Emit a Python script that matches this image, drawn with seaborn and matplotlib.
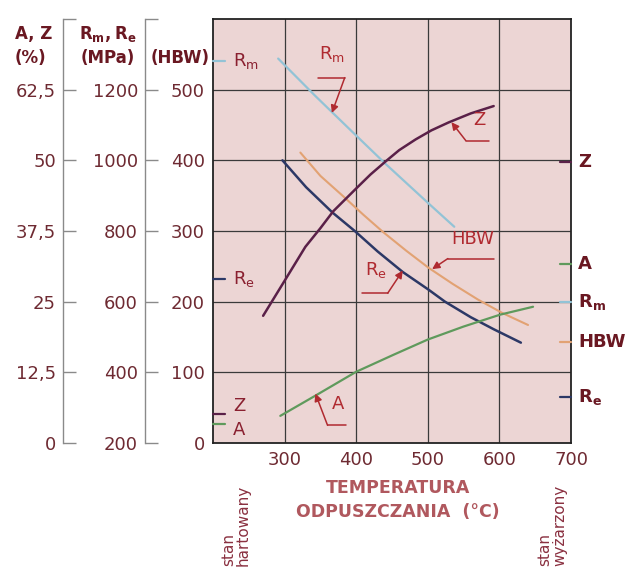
import matplotlib
matplotlib.use("Agg")
import matplotlib.pyplot as plt
import seaborn as sns
import pandas as pd

# tempering temperature (°C) and property values
t_rm = [291, 343, 399, 441, 500, 537]
rm = [1288, 1182, 1072, 990, 880, 812]                     # MPa

t_re = [297, 330, 367, 398, 430, 465, 501, 524, 560, 592, 630]
re = [1000, 924, 852, 800, 742, 684, 634, 600, 556, 522, 484]   # MPa

t_hbw = [322, 350, 382, 410, 437, 470, 501, 535, 570, 604, 640]
hbw = [411, 378, 349, 323, 299, 272, 248, 225, 203, 184, 167]   # HBW

t_z = [270, 301, 329, 350, 368, 399, 420, 441, 460, 483, 505, 529, 560, 592]
z = [22.5, 28.9, 34.7, 38.0, 41.0, 44.9, 47.5, 49.8, 51.8, 53.7, 55.3, 56.7, 58.3, 59.6]  # %

t_a = [294, 342, 400, 452, 500, 550, 601, 647]
a = [4.8, 8.3, 12.6, 15.6, 18.3, 20.6, 22.7, 24.1]         # %

x_ticks = [300, 400, 500, 600, 700]
hbw_ticks = [0, 100, 200, 300, 400, 500]
mpa_ticks = [200, 400, 600, 800, 1000, 1200, 1400]
pct_ticks = [0, 12.5, 25, 37.5, 50, 62.5, 75]

MAROON = "#6a1822"
RED = "#b02a30"
C_RM = "#92c3d6"
C_RE = "#2c3866"
C_HBW = "#e2a273"
C_Z = "#5a2048"
C_A = "#5f9a5c"


# everything is drawn on the HBW scale; MPa and % are linear maps of it
def mpa_to_h(v):
    return (v - 200) / 2.0


def h_to_mpa(h):
    return 200 + 2.0 * h


def pct_to_h(v):
    return v / 0.125


def h_to_pct(h):
    return h * 0.125


def fmt(v):
    s = "{:g}".format(v)
    return s.replace(".", ",")


sns.set_style("white")
plt.rcParams["mathtext.fontset"] = "dejavusans"

fig = plt.figure(figsize=(6.33, 5.72), dpi=100)
ax = fig.add_axes([213 / 633, 1 - 443 / 572, 358 / 633, 424 / 572])
ax.set_facecolor("#ecd5d4")

series = [
    (t_rm, [mpa_to_h(v) for v in rm], C_RM, 1.6),
    (t_re, [mpa_to_h(v) for v in re], C_RE, 1.8),
    (t_hbw, hbw, C_HBW, 1.5),
    (t_z, [pct_to_h(v) for v in z], C_Z, 1.8),
    (t_a, [pct_to_h(v) for v in a], C_A, 1.6),
]
for tt, vv, col, lw in series:
    df = pd.DataFrame({"t": tt, "v": vv})
    sns.lineplot(data=df, x="t", y="v", color=col, lw=lw, ax=ax, sort=False, zorder=3)

ax.set_xlim(200, 700)
ax.set_ylim(0, 600)
ax.set_xlabel("")
ax.set_ylabel("")

for gx in x_ticks[:-1]:
    ax.axvline(gx, color="#3a3a3a", lw=0.9, zorder=1)
for gy in hbw_ticks[1:]:
    ax.axhline(gy, color="#3a3a3a", lw=0.9, zorder=1)

for sp in ax.spines.values():
    sp.set_color("#222222")
    sp.set_linewidth(1.3)

ax.set_xticks(x_ticks)
ax.set_xticklabels([str(v) for v in x_ticks])
ax.tick_params(axis="x", length=0, pad=6, labelsize=13, labelcolor="#6e2a32")
ax.set_yticks(hbw_ticks)
ax.set_yticklabels([str(v) for v in hbw_ticks])
ax.tick_params(axis="y", direction="in", length=5, width=1, color="#555555",
               pad=6, labelsize=13, labelcolor="#6e2a32")

# extra left scales
for loc, fwd, inv, ticks in [(-0.19, h_to_mpa, mpa_to_h, mpa_ticks),
                             (-0.419, h_to_pct, pct_to_h, pct_ticks)]:
    sec = ax.secondary_yaxis(loc, functions=(fwd, inv))
    sec.set_yticks(ticks)
    sec.set_yticklabels([fmt(v) for v in ticks[:-1]] + [""])
    sec.tick_params(direction="in", length=9, width=1, color="#8a8a8a",
                    pad=5, labelsize=13, labelcolor="#6e2a32")
    sec.spines["left"].set_color("#8a8a8a")
    sec.spines["left"].set_linewidth(1.0)

# axis titles
fig.text(34 / 633, 1 - 34 / 572, "A, Z", ha="center", va="center",
         fontsize=12, fontweight="bold", color=MAROON)
fig.text(30 / 633, 1 - 58 / 572, "(%)", ha="center", va="center",
         fontsize=12, fontweight="bold", color=MAROON)
fig.text(108 / 633, 1 - 34 / 572, r"$\mathbf{R_m, R_e}$", ha="center", va="center",
         fontsize=12, color=MAROON)
fig.text(108 / 633, 1 - 58 / 572, "(MPa)", ha="center", va="center",
         fontsize=12, fontweight="bold", color=MAROON)
fig.text(180 / 633, 1 - 58 / 572, "(HBW)", ha="center", va="center",
         fontsize=12, fontweight="bold", color=MAROON)

fig.text(398 / 633, 1 - 488 / 572, "TEMPERATURA", ha="center", va="center",
         fontsize=12.5, fontweight="bold", color="#b0585e")
fig.text(398 / 633, 1 - 512 / 572, "ODPUSZCZANIA  (°C)", ha="center", va="center",
         fontsize=12.5, fontweight="bold", color="#b0585e")

fig.text(236 / 633, 1 - 566 / 572, "stan\nhartowany", rotation=90, ha="center",
         va="bottom", multialignment="left", fontsize=11, color="#8a3040",
         linespacing=1.0)
fig.text(552 / 633, 1 - 566 / 572, "stan\nwyżarzony", rotation=90, ha="center",
         va="bottom", multialignment="left", fontsize=11, color="#8a3040",
         linespacing=1.0)

# curve keys at the left edge (inside) and right edge (outside labels)
left_keys = [(540, 540, C_RM, r"R$_\mathregular{m}$"),
             (232, 232, C_RE, r"R$_\mathregular{e}$"),
             (41, 52, C_Z, "Z"), (27, 18, C_A, "A")]
for yy, ty, col, lab in left_keys:
    ax.plot([200, 217], [yy, yy], color=col, lw=1.6, zorder=4, clip_on=False)
    ax.text(228, ty, lab, ha="left", va="center", fontsize=13, color="#8a2030", zorder=4)

right_keys = [(397, C_Z, "Z"), (254, C_A, "A"), (200, C_RM, r"$\mathbf{R_m}$"),
              (143, C_HBW, "HBW"), (65, C_RE, r"$\mathbf{R_e}$")]
for yy, col, lab in right_keys:
    ax.plot([684, 700], [yy, yy], color=col, lw=1.6, zorder=4, clip_on=False)
    ax.text(710, yy, lab, ha="left", va="center", fontsize=13, fontweight="bold",
            color=MAROON, clip_on=False)

# callouts: label, text position, underline (x0, x1, y), leader start, arrow tip
callouts = [
    (r"R$_\mathregular{m}$", (366, 537), (347, 384, 517), (384, 517), (366, 467)),
    ("Z", (572, 445), (553, 585, 428), (553, 428), (533, 454)),
    ("HBW", (562, 276), (528, 592, 261), (528, 261), (506, 246)),
    (r"R$_\mathregular{e}$", (427, 231), (408, 444, 212), (444, 212), (465, 244)),
    ("A", (374, 42), (360, 386, 25), (360, 25), (343, 70)),
]
for lab, tpos, ul, lstart, tip in callouts:
    ax.text(tpos[0], tpos[1], lab, ha="center", va="bottom", fontsize=13,
            color=RED, zorder=5)
    ax.plot([ul[0], ul[1]], [ul[2], ul[2]], color=RED, lw=1.1, zorder=5)
    ax.annotate("", xy=tip, xytext=lstart,
                arrowprops=dict(arrowstyle="-|>", color=RED, lw=1.1,
                                mutation_scale=11, shrinkA=0, shrinkB=0),
                zorder=5)

fig.savefig("out.png", dpi=100)
